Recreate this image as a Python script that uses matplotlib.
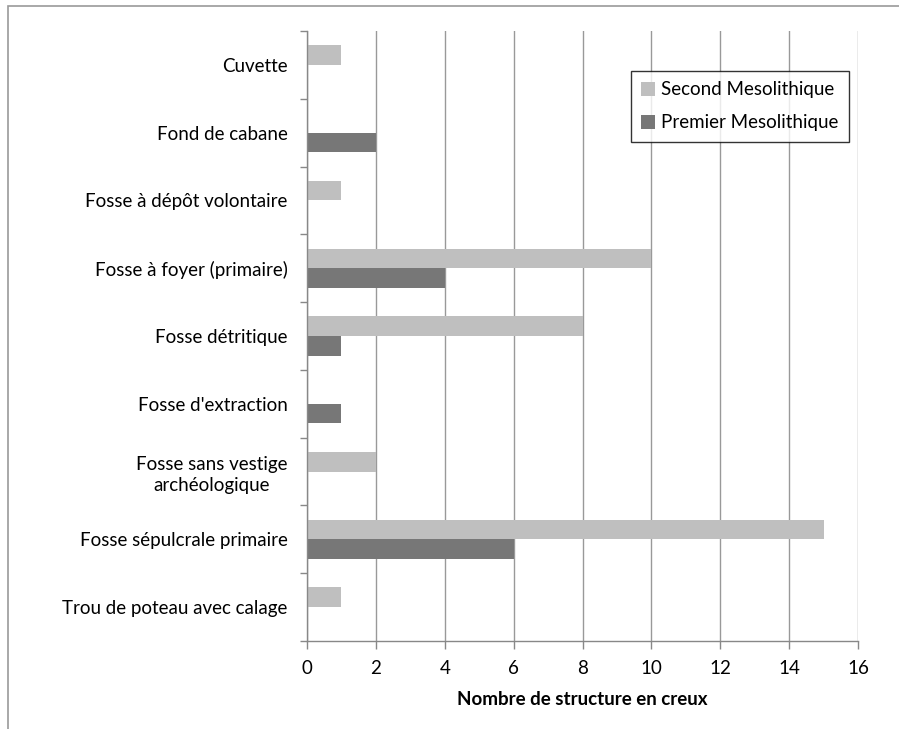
import matplotlib
matplotlib.use("Agg")
import matplotlib.pyplot as plt
from matplotlib.patches import Rectangle
import numpy as np

plt.rcParams['font.family'] = ['Lato', 'DejaVu Sans']

categories = ['Cuvette', 'Fond de cabane', 'Fosse à dépôt volontaire',
              'Fosse à foyer (primaire)', 'Fosse détritique', "Fosse d'extraction",
              'Fosse sans vestige\narchéologique', 'Fosse sépulcrale primaire',
              'Trou de poteau avec calage']
second = [1, 0, 1, 10, 8, 0, 2, 15, 1]
premier = [0, 2, 0, 4, 1, 1, 0, 6, 0]

W, H = 899, 729
fig = plt.figure(figsize=(W / 100, H / 100), dpi=100)

# chart border (cropped on right and bottom)
fig.patches.append(Rectangle((8 / W, -0.1), 2, 1 - 6 / H + 0.1, transform=fig.transFigure,
                             fill=False, edgecolor='#9a9a9a', linewidth=1.2))

ax = fig.add_axes([307 / W, 1 - 641 / H, (858 - 307) / W, (641 - 31) / H])

n = len(categories)
y = np.arange(n)[::-1]
h = 0.29
ax.barh(y + h / 2, second, height=h, color='#bfbfbf', label='Second Mesolithique')
ax.barh(y - h / 2, premier, height=h, color='#777777', label='Premier Mesolithique')

fs = 13.5
ax.set_xlim(0, 16)
ax.set_ylim(-0.5, n - 0.5)
ax.set_xticks(range(0, 17, 2))
ax.set_yticks(np.arange(n + 1) - 0.5)
ax.set_yticklabels([])
ax.set_yticks(y, minor=True)
ax.set_yticklabels(categories, minor=True, fontsize=fs, ha='right', multialignment='center',
                   linespacing=1.25)
ax.tick_params(axis='y', which='minor', length=0, pad=14)
ax.tick_params(axis='y', which='major', length=5, color='#888888', width=1)
ax.tick_params(axis='x', length=6, color='#888888', width=1, labelsize=fs, pad=8)

ax.grid(axis='x', color='#999999', linewidth=1)
ax.set_axisbelow(True)
for s in ['top', 'right']:
    ax.spines[s].set_visible(False)
for s in ['left', 'bottom']:
    ax.spines[s].set_color('#888888')
    ax.spines[s].set_linewidth(1)

ax.set_xlabel('Nombre de structure en creux', fontsize=fs, fontweight='bold', labelpad=10)

leg = ax.legend(loc='upper left', bbox_to_anchor=((631 - 307) / (858 - 307), 1 - (71 - 31) / (641 - 31)),
                fontsize=fs, frameon=True, fancybox=False, handlelength=0.75, handleheight=0.75,
                handletextpad=0.3, borderpad=0.55, labelspacing=0.85, borderaxespad=0)
leg.get_frame().set_edgecolor('black')
leg.get_frame().set_linewidth(1)

fig.savefig('out.png', dpi=100)
